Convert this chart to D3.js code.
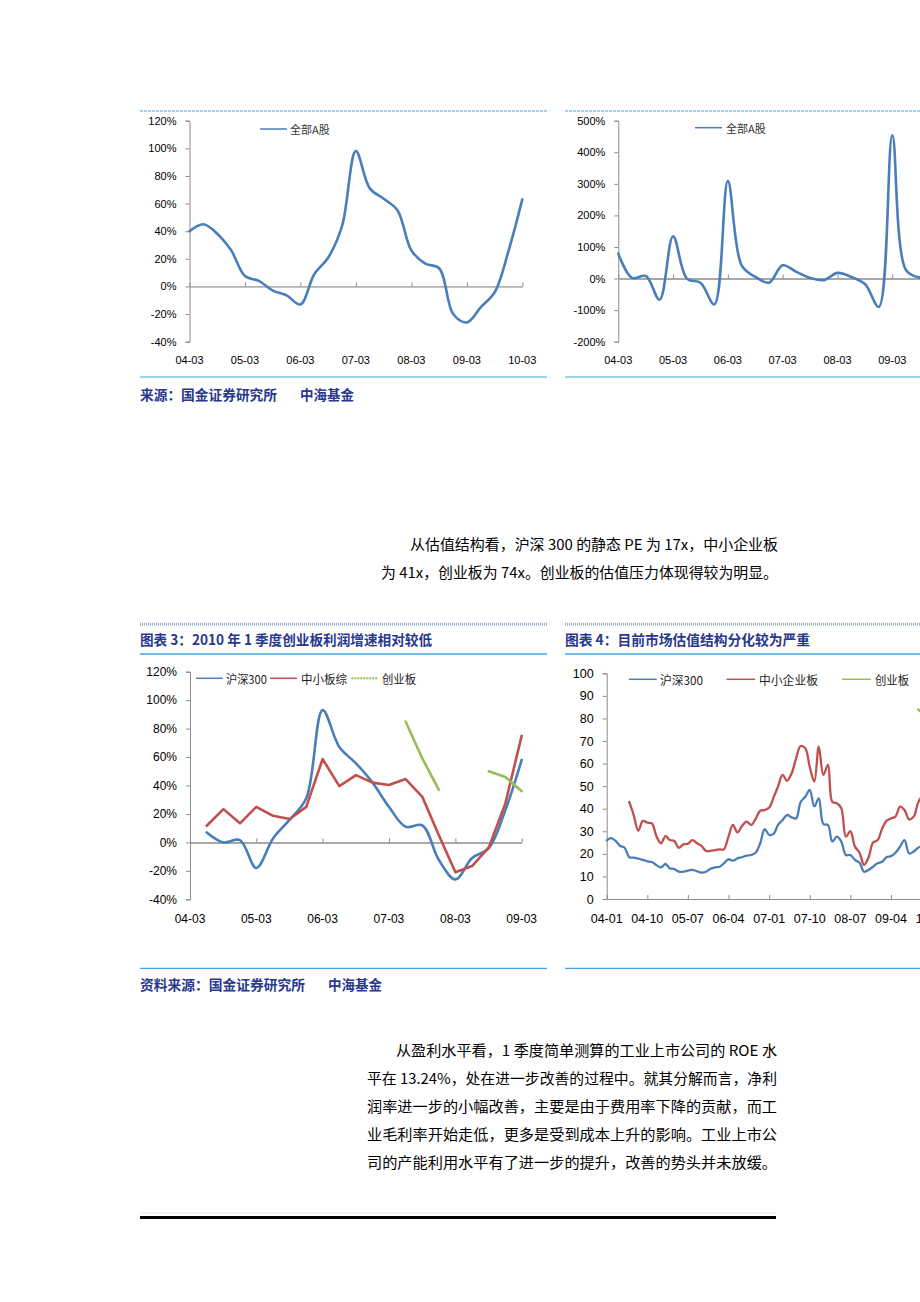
<!DOCTYPE html>
<html>
<head>
<meta charset="utf-8">
<script src="https://cdn.jsdelivr.net/npm/d3@7"></script>
<style>
  body { margin: 0; background: #fff; }
</style>
</head>
<body>
<svg id="page" width="920" height="1302"></svg>
<script>
// ---- data ----
// quarterly categories, 04-03 .. 10-03
const quarters = ["04-03","04-06","04-09","04-12","05-03","05-06","05-09","05-12",
  "06-03","06-06","06-09","06-12","07-03","07-06","07-09","07-12",
  "08-03","08-06","08-09","08-12","09-03","09-06","09-09","09-12","10-03"];
const yearTicks = ["04-03","05-03","06-03","07-03","08-03","09-03","10-03"];

// chart 1: 全部A股 利润同比 (%)
const allAYoy = [40,45,38,26,7.5,4,-3,-6.5,-13,9,21,44,98,71,63.5,55,26,16.5,13,-20,-26,-15,-4,26,63];
// chart 2: 全部A股 环比 (%), 04-03 .. 09-09
const allAQoq = [79,2,8,-67,134,0,-14,-82,309,42,5,-13,42,21,2,-5,18,5,-18,-90,454,26,3];

// chart 3: 04-06 .. 09-03
const hs300Growth = [7,0,1.6,-18,2.8,16,31,93,67,55.5,42,25,11,12,-12.4,-26,-11,-4,22.7,58];
const smeGrowth   = [11.7,23.4,13.4,25,18.7,16.4,25,58.6,39.6,47.3,42,40.3,44.5,32,5,-21,-16.6,-3.5,27.4,75];
const gemGrowth   = [null,null,null,null,null,null,null,null,null,null,null,null,85,59,37,null,null,50,46,36];

// chart 4: monthly PE from 04-01
const hs300PE = [26,27,25.7,23.5,22.7,18.5,18.3,17.9,17.3,16.7,16.4,15,14,15.5,13.6,13.3,12.1,12.1,12.6,12.9,
  12.3,11.7,12.1,13.4,14,14.3,15.8,17.6,17,18,18.5,19.2,19.5,20.5,24.7,31,28.4,29,32.8,35,
  37.2,36.2,35.7,43,45.3,48.3,41,44.6,33.2,32.8,25.4,27.6,25.4,19.5,19.5,17.3,16.1,12.1,12.9,14.3,
  15.8,16.5,18.5,19,20.5,23.2,26.1,20.2,21,22.7,23.5];
const smePE = [null,null,null,null,null,43,37.2,30.3,34.6,33.8,33.5,27.9,24.7,27.9,26.1,25.7,22.7,24.2,24.4,26.1,
  24.7,23.5,21.3,21.3,21.7,22,22,27.6,32.8,29.5,32.3,34.3,32.8,35.5,39.1,39.4,40.5,45.3,49.8,55,
  52.4,55.7,62.3,67.8,66.8,58.6,52,67.5,55,59.4,43.1,42.4,40.2,27.6,30.1,23.2,20.5,15.1,18.5,25,
  26.1,31.3,34.6,35.7,36.5,40.9,39.4,35.3,36.5,42.7,46];
const gemPE = hs300PE.map((d, i) => i === 69 ? 84 : i === 70 ? 82 : null);
const monthTicks = ["04-01","04-10","05-07","06-04","07-01","07-10","08-07","09-04","10-01"];

const pct20 = [-40,-20,0,20,40,60,80,100,120];
const pct100 = [-200,-100,0,100,200,300,400,500];
const pe10 = [0,10,20,30,40,50,60,70,80,90,100];

// ---- styles ----
const blue = "#4a7ebb", red = "#c0504d", green = "#9bbb59";
const frameBlue = "#3fa4e2", navy = "#28388f";
const latin = "'Liberation Sans', Arial, sans-serif";
const cjk = "'Noto Sans CJK SC', sans-serif";
const parse = d3.timeParse("%y-%m");

const svg = d3.select("#page");

function hline(x1, x2, y, color, w, dash) {
  svg.append("line").attr("x1", x1).attr("x2", x2).attr("y1", y).attr("y2", y)
    .attr("stroke", color).attr("stroke-width", w)
    .attr("stroke-dasharray", dash || null);
}

function txt(x, y, s, size, opts) {
  opts = opts || {};
  const t = svg.append("text").attr("x", x).attr("y", y).text(s)
    .attr("font-size", size)
    .attr("font-family", opts.family || cjk)
    .attr("fill", opts.fill || "#000")
    .attr("dominant-baseline", "central")
    .attr("text-anchor", opts.anchor || "start");
  if (opts.bold) t.attr("font-weight", "bold");
  if (opts.len) t.attr("textLength", opts.len).attr("lengthAdjust", "spacingAndGlyphs");
  return t;
}

function yAxis(y, x, ticks, fmt, size) {
  svg.append("g").attr("transform", `translate(${x},0)`)
    .call(d3.axisLeft(y).tickValues(ticks).tickFormat(fmt).tickSize(4).tickSizeOuter(4).tickPadding(9))
    .call(g => {
      g.attr("font-family", latin);
      g.select(".domain").attr("stroke", "#8c8c8c");
      g.selectAll(".tick line").attr("stroke", "#8c8c8c");
      g.selectAll("text").attr("font-size", size).attr("fill", "#000");
    });
}

function zeroAxis(x, y0, ticks, color, w) {
  svg.append("g").attr("transform", `translate(0,${y0})`)
    .call(d3.axisBottom(x).tickValues(ticks).tickFormat("").tickSizeInner(-4).tickSizeOuter(0))
    .call(g => {
      g.select(".domain").attr("stroke", color).attr("stroke-width", w);
      g.selectAll(".tick line").attr("stroke", "#8c8c8c");
    });
}

function xLabels(x, ticks, labels, y, size) {
  ticks.forEach((t, i) => txt(x(t), y, labels[i], size, {family: latin, anchor: "middle"}));
}

function series(x, y, dates, vals, color, w, curve, dash) {
  const pts = dates.map((d, i) => ({d: d, v: vals[i]}));
  svg.append("path").datum(pts)
    .attr("fill", "none").attr("stroke", color).attr("stroke-width", w)
    .attr("stroke-linejoin", "round").attr("stroke-linecap", "round")
    .attr("d", d3.line().defined(p => p.v != null)
      .x(p => x(p.d)).y(p => y(p.v)).curve(curve));
}

const smooth = d3.curveCatmullRom.alpha(0.5);

// ---- chart 1 ----
{
  hline(140, 547, 111, frameBlue, 1, "3,1");
  hline(140, 547, 377, frameBlue, 1.2);
  const qd = quarters.map(parse);
  const x = d3.scaleTime().domain([parse("04-03"), parse("10-03")]).range([189.5, 522.3]);
  const y = d3.scaleLinear().domain([-40, 120]).range([341.7, 120.7]);
  yAxis(y, 189.5, pct20, d => d + "%", 11);
  zeroAxis(x, y(0), yearTicks.map(parse), "#7a7a7a", 1);
  xLabels(x, yearTicks.map(parse), yearTicks, 360, 11);
  series(x, y, qd, allAYoy, blue, 2.6, smooth);
  hline(260, 287, 129, blue, 1.5);
  txt(290, 129, "全部A股", 11, {fill: "#333"});
  txt(140, 394, "来源：国金证券研究所", 14, {fill: navy, bold: true, len: 137});
  txt(300, 394, "中海基金", 14, {fill: navy, bold: true, len: 54});
}

// ---- chart 2 ----
{
  hline(565, 920, 111, frameBlue, 1, "3,1");
  hline(565, 920, 377, frameBlue, 1.2);
  const qd = quarters.slice(0, allAQoq.length).map(parse);
  const x = d3.scaleTime().domain([parse("04-03"), parse("10-03")]).range([618.3, 947.1]);
  const y = d3.scaleLinear().domain([-200, 500]).range([341.7, 120.7]);
  yAxis(y, 618.3, pct100, d => d + "%", 11);
  zeroAxis(x, y(0), yearTicks.map(parse), "#a8a8a8", 2);
  // only the labels that fall on the page
  const shown = yearTicks.slice(0, 6);
  xLabels(x, shown.map(parse), shown, 360, 11);
  series(x, y, qd, allAQoq, blue, 2.6, smooth);
  hline(695, 722, 127.7, blue, 1.5);
  txt(726, 127.7, "全部A股", 11, {fill: "#333"});
}

// ---- chart 3 ----
{
  hline(140, 547, 624.3, "#98aacb", 3, "1,1");
  txt(140, 639, "图表 3：2010 年 1 季度创业板利润增速相对较低", 14, {fill: navy, bold: true, len: 292});
  hline(140, 547, 654, frameBlue, 1.5);
  hline(140, 547, 968.3, frameBlue, 1.2);
  const qd = quarters.slice(1, 21).map(parse);
  const ticks = yearTicks.slice(0, 6);
  const x = d3.scaleTime().domain([parse("04-03"), parse("09-03")]).range([190, 521.7]);
  const y = d3.scaleLinear().domain([-40, 120]).range([899.3, 671.7]);
  yAxis(y, 190, pct20, d => d + "%", 12);
  zeroAxis(x, y(0), ticks.map(parse), "#8c8c8c", 1.5);
  xLabels(x, ticks.map(parse), ticks, 919, 12);
  series(x, y, qd, hs300Growth, blue, 2.6, smooth);
  series(x, y, qd, smeGrowth, red, 2.6, d3.curveLinear);
  series(x, y, qd, gemGrowth, green, 2.6, d3.curveLinear);
  hline(196, 222.7, 678.3, blue, 1.5);
  txt(226, 678.3, "沪深300", 12, {fill: "#222", len: 41});
  hline(270, 297, 678.3, red, 1.5);
  txt(301, 678.3, "中小板综", 12, {fill: "#222", len: 46});
  hline(351.3, 378.3, 678.3, green, 2, "2,1");
  txt(382, 678.3, "创业板", 12, {fill: "#222", len: 34});
  txt(140, 984.3, "资料来源：国金证券研究所", 14, {fill: navy, bold: true, len: 165});
  txt(328, 984.3, "中海基金", 14, {fill: navy, bold: true, len: 54});
}

// ---- chart 4 ----
{
  hline(565, 920, 624.3, "#98aacb", 3, "1,1");
  txt(565, 639, "图表 4：目前市场估值结构分化较为严重", 14, {fill: navy, bold: true, len: 245});
  hline(565, 920, 654, frameBlue, 1.5);
  hline(565, 920, 968.3, frameBlue, 1.2);
  const start = parse("04-01");
  const md = hs300PE.map((d, i) => d3.timeMonth.offset(start, i));
  const x = d3.scaleTime().domain([start, parse("09-04")]).range([606.7, 891]);
  const y = d3.scaleLinear().domain([0, 100]).range([899, 673.3]);
  yAxis(y, 606.7, pe10, d => d, 12.5);
  const ticks = monthTicks.map(parse);
  const xAxisScale = d3.scaleTime().domain([start, parse("10-01")]).range([606.7, x(parse("10-01"))]);
  svg.append("g").attr("transform", `translate(0,${y(0)})`)
    .call(d3.axisBottom(xAxisScale).tickValues(ticks).tickFormat("").tickSizeInner(-4).tickSizeOuter(0))
    .call(g => { g.select(".domain").attr("stroke", "#8c8c8c").attr("stroke-width", 1.2);
                 g.selectAll(".tick line").attr("stroke", "#8c8c8c"); });
  xLabels(x, ticks, monthTicks, 919, 12.5);
  series(x, y, md, hs300PE, blue, 2.3, smooth);
  series(x, y, md, smePE, red, 2.3, smooth);
  series(x, y, md, gemPE, green, 2.3, smooth);
  hline(629, 656.7, 679.3, blue, 1.5);
  txt(660, 679.3, "沪深300", 12, {fill: "#222", len: 43});
  hline(726.7, 755, 679.3, red, 1.5);
  txt(759, 679.3, "中小企业板", 12, {fill: "#222", len: 59});
  hline(842, 871, 679.3, green, 1.5);
  txt(875, 679.3, "创业板", 12, {fill: "#222", len: 34});
}

// ---- body text ----
txt(410, 543.3, "从估值结构看，沪深 300 的静态 PE 为 17x，中小企业板", 14.5, {len: 368});
txt(381, 571.7, "为 41x，创业板为 74x。创业板的估值压力体现得较为明显。", 14.5, {len: 397});

const para2 = [
  "平在 13.24%，处在进一步改善的过程中。就其分解而言，净利",
  "润率进一步的小幅改善，主要是由于费用率下降的贡献，而工",
  "业毛利率开始走低，更多是受到成本上升的影响。工业上市公",
  "司的产能利用水平有了进一步的提升，改善的势头并未放缓。"
];
txt(396, 1049.5, "从盈利水平看，1 季度简单测算的工业上市公司的 ROE 水", 14.5, {len: 381});
para2.forEach((s, i) => txt(367, 1077.5 + i * 28, s, 14.5, {len: 410}));

hline(140, 776, 1213, "#cccccc", 1, "1,1");
hline(140, 776, 1217.5, "#000", 3);
</script>
</body>
</html>
